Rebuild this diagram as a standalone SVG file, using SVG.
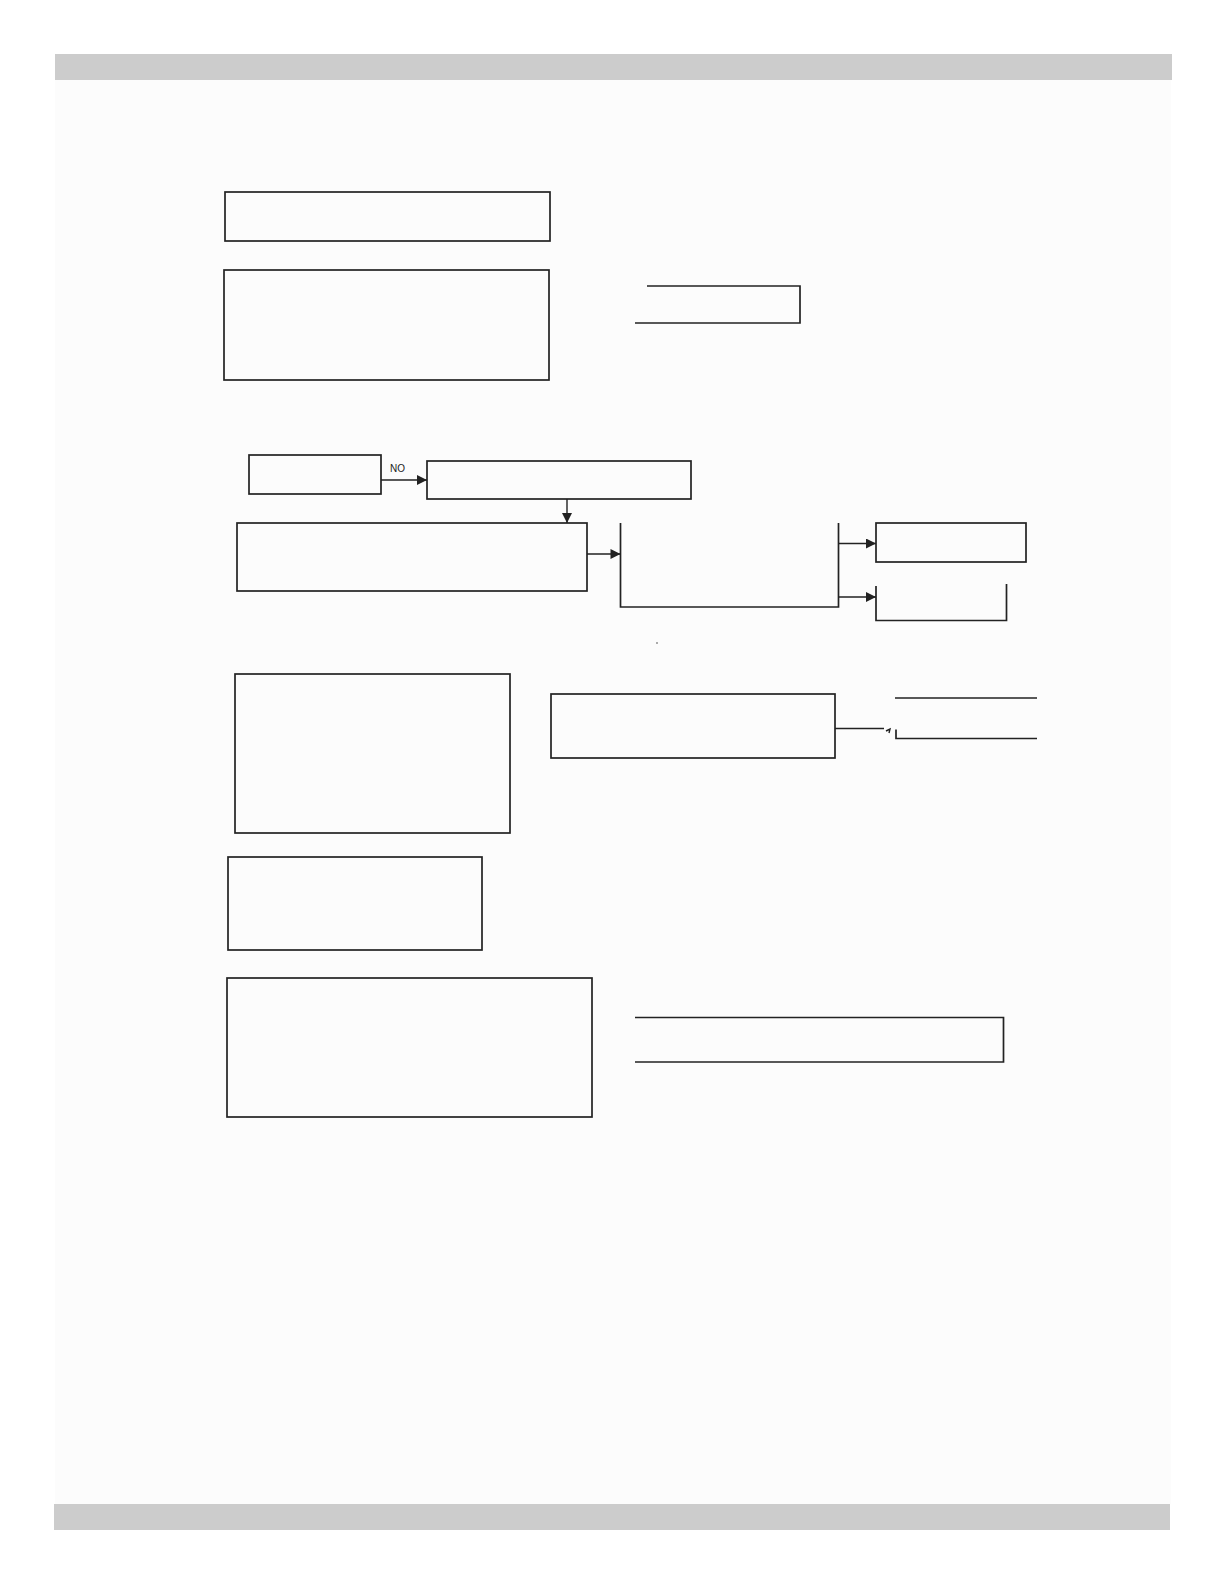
<svg xmlns="http://www.w3.org/2000/svg" width="1224" height="1584" viewBox="0 0 1224 1584">
<style>
.page{fill:#fcfcfc}
.bar{fill:#cccccc}
.box{fill:none;stroke:#222222;stroke-width:1.7}
.open{fill:none;stroke:#222222;stroke-width:1.7}
.conn{fill:none;stroke:#222222;stroke-width:1.4}
.lbl{font-family:"Liberation Sans",Arial,sans-serif;font-size:10px;fill:#222222}
</style>
<defs>
<marker id="arr" viewBox="0 0 10 10" refX="10" refY="5" markerWidth="11" markerHeight="10" markerUnits="userSpaceOnUse" orient="auto">
<path d="M0,0 L10,5 L0,10 Z" fill="#222222"/>
</marker>
</defs>
<rect x="0" y="0" width="1224" height="1584" fill="#ffffff"/>
<rect class="page" x="55" y="80" width="1116" height="1424"/>
<rect class="bar" x="55" y="54" width="1117" height="26"/>
<rect class="bar" x="54" y="1504" width="1116" height="26"/>

<g id="nodeA"><rect class="box" x="225" y="192" width="325" height="49"/></g>
<g id="nodeB"><rect class="box" x="224" y="270" width="325" height="110"/></g>
<g id="nodeC"><path class="open" d="M647,286 H800 V323 H635"/></g>

<g id="nodeNO"><rect class="box" x="249" y="455" width="132" height="39"/></g>
<g id="nodeD"><rect class="box" x="427" y="461" width="264" height="38"/></g>
<g id="nodeE"><rect class="box" x="237" y="523" width="350" height="68"/></g>
<g id="nodeF"><path class="open" d="M620.5,523 V607 H838.5 V523"/></g>
<g id="nodeG"><rect class="box" x="876" y="523" width="150" height="39"/></g>
<g id="nodeH"><path class="open" d="M876,586 V620.5 H1006.5 V584"/></g>

<g id="nodeI"><rect class="box" x="235" y="674" width="275" height="159"/></g>
<g id="nodeJ"><rect class="box" x="551" y="694" width="284" height="64"/></g>
<g id="nodeK"><path class="open" d="M895,698 H1037 M896,729.5 V738.5 H1037"/></g>

<g id="nodeL"><rect class="box" x="228" y="857" width="254" height="93"/></g>
<g id="nodeM"><rect class="box" x="227" y="978" width="365" height="139"/></g>
<g id="nodeN"><path class="open" d="M635,1017.5 H1003.5 V1062 H635"/></g>

<g id="connectors">
<line class="conn" x1="381" y1="480" x2="427" y2="480" marker-end="url(#arr)"/>
<text class="lbl" x="390" y="472">NO</text>
<line class="conn" x1="567" y1="499" x2="567" y2="523" marker-end="url(#arr)"/>
<line class="conn" x1="587" y1="554" x2="620.5" y2="554" marker-end="url(#arr)"/>
<line class="conn" x1="838.5" y1="543.5" x2="876" y2="543.5" marker-end="url(#arr)"/>
<line class="conn" x1="838.5" y1="597" x2="876" y2="597" marker-end="url(#arr)"/>
<line class="conn" x1="835" y1="728.5" x2="884" y2="728.5"/>
<path class="conn" d="M886,731 L890,729 L889,733"/>
</g>
<circle cx="657" cy="643" r="0.8" fill="#444444"/>
</svg>
